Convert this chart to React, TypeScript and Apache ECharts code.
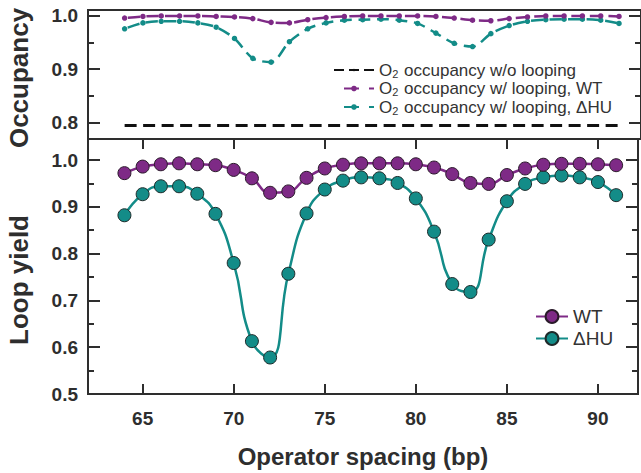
import React, { useEffect, useRef } from 'react';
import * as echarts from 'echarts';

// Operator spacing (bp)
const spacing = [64, 65, 66, 67, 68, 69, 70, 71, 72, 73, 74, 75, 76, 77, 78, 79, 80, 81, 82, 83, 84, 85, 86, 87, 88, 89, 90, 91];

// Top panel: O2 occupancy
const occNoLoop = [0.795, 0.795, 0.795, 0.795, 0.795, 0.795, 0.795, 0.795, 0.795, 0.795, 0.795, 0.795, 0.795, 0.795, 0.795, 0.795, 0.795, 0.795, 0.795, 0.795, 0.795, 0.795, 0.795, 0.795, 0.795, 0.795, 0.795, 0.795];
const occWT = [0.995, 0.998, 0.999, 0.999, 0.999, 0.998, 0.997, 0.994, 0.987, 0.986, 0.992, 0.996, 0.998, 0.999, 0.999, 0.999, 0.999, 0.998, 0.995, 0.991, 0.990, 0.994, 0.997, 0.999, 0.999, 0.999, 0.999, 0.998];
const occHU = [0.975, 0.986, 0.989, 0.989, 0.986, 0.978, 0.957, 0.920, 0.913, 0.951, 0.975, 0.986, 0.991, 0.992, 0.993, 0.991, 0.985, 0.967, 0.948, 0.942, 0.966, 0.981, 0.989, 0.992, 0.993, 0.993, 0.991, 0.985];

// Bottom panel: loop yield
const yieldWT = [0.972, 0.986, 0.991, 0.993, 0.991, 0.989, 0.979, 0.961, 0.930, 0.933, 0.962, 0.982, 0.990, 0.993, 0.993, 0.993, 0.991, 0.984, 0.970, 0.951, 0.949, 0.968, 0.982, 0.990, 0.992, 0.992, 0.991, 0.989];
const yieldHU = [0.882, 0.927, 0.944, 0.944, 0.928, 0.885, 0.780, 0.613, 0.578, 0.757, 0.886, 0.937, 0.956, 0.963, 0.961, 0.951, 0.918, 0.847, 0.735, 0.718, 0.830, 0.912, 0.949, 0.963, 0.967, 0.963, 0.953, 0.925];

const seriesNames = [
  'O2 occupancy w/o looping',
  'O2 occupancy w/ looping, WT',
  'O2 occupancy w/ looping, \u0394HU',
  'WT',
  '\u0394HU',
];

const FONT = '"Liberation Sans", Arial, Helvetica, sans-serif';
const AX = '#2e2e2e';
const PURPLE = '#7e2a86';
const TEAL = '#138c88';

const pairs = (ys: number[]) => spacing.map((x, i) => [x, ys[i]]);

const isTenth = (v: number) => Math.abs(v * 10 - Math.round(v * 10)) < 1e-6;
const isFive = (v: number) => Math.abs(v / 5 - Math.round(v / 5)) < 1e-6;

const tickStyle = { color: AX, width: 2 };

function yAxisDef(gridIndex: number, min: number, max: number, right: boolean, extra: any) {
  return {
    type: 'value',
    gridIndex,
    min,
    max,
    position: right ? 'right' : 'left',
    axisLine: { show: false },
    axisTick: { show: true, inside: true, length: 12, lineStyle: tickStyle },
    minorTick: { show: true, splitNumber: 2, length: 6, lineStyle: tickStyle },
    splitLine: { show: false },
    minorSplitLine: { show: false },
    axisLabel: right
      ? { show: false }
      : {
          show: true,
          margin: 10,
          fontSize: 19,
          fontWeight: 'bold',
          fontFamily: FONT,
          color: AX,
          showMinLabel: true,
          showMaxLabel: true,
          formatter: (v: number) => (isTenth(v) ? v.toFixed(1) : ''),
        },
    ...extra,
  };
}

function xAxisDef(gridIndex: number, position: string, ticks: boolean, labels: boolean, extra: any) {
  return {
    type: 'value',
    gridIndex,
    min: 62,
    max: 92.2,
    splitNumber: 6,
    position,
    axisLine: { show: false },
    axisTick: { show: ticks, inside: true, length: 10, lineStyle: tickStyle },
    splitLine: { show: false },
    axisLabel: labels
      ? {
          show: true,
          margin: 15,
          fontSize: 19,
          fontWeight: 'bold',
          fontFamily: FONT,
          color: AX,
          showMinLabel: true,
          showMaxLabel: true,
          formatter: (v: number) => (isFive(v) ? String(Math.round(v)) : ''),
        }
      : { show: false },
    ...extra,
  };
}

const legendFormatter = (name: string) =>
  name.startsWith('O2') ? `{n|O}{s|2}{n|${name.slice(2)}}` : name;

const topRich = {
  n: { fontSize: 17, fontFamily: FONT, color: '#333', lineHeight: 18 },
  s: { fontSize: 11, fontFamily: FONT, color: '#333', lineHeight: 8, verticalAlign: 'bottom', padding: [0, 1, 0, 0] },
};

export default function App() {
  const ref = useRef<HTMLDivElement>(null);

  useEffect(() => {
    if (!ref.current) return;
    const chart = echarts.init(ref.current, undefined, { renderer: 'svg' });

    const option: any = {
      animation: false,
      backgroundColor: '#ffffff',
      grid: [
        { left: 88, top: 10, width: 560, height: 129, show: true, borderColor: AX, borderWidth: 2, backgroundColor: 'transparent' },
        { left: 88, top: 139, width: 560, height: 256, show: true, borderColor: AX, borderWidth: 2, backgroundColor: 'transparent' },
      ],
      xAxis: [
        xAxisDef(0, 'bottom', false, false, {}),
        xAxisDef(1, 'bottom', true, true, {
          name: 'Operator spacing (bp)',
          nameLocation: 'middle',
          nameGap: 50,
          nameTextStyle: { fontSize: 24, fontWeight: 'bold', fontFamily: FONT, color: AX },
        }),
        xAxisDef(1, 'top', true, false, {}),
      ],
      yAxis: [
        yAxisDef(0, 0.77, 1.01, false, { splitNumber: 2 }),
        yAxisDef(1, 0.5, 1.045, false, { interval: 0.1 }),
        yAxisDef(0, 0.77, 1.01, true, { splitNumber: 2 }),
        yAxisDef(1, 0.5, 1.045, true, { interval: 0.1 }),
      ],
      legend: [
        {
          data: [seriesNames[0]],
          left: 328,
          top: 56,
          orient: 'vertical',
          itemWidth: 40,
          itemHeight: 3,
          selectedMode: false,
          lineStyle: { type: [10, 5] },
          formatter: legendFormatter,
          textStyle: { rich: topRich, fontSize: 17, lineHeight: 18, fontFamily: FONT, color: '#333' },
        },
        {
          data: [seriesNames[1], seriesNames[2]],
          left: 328,
          top: 74.5,
          orient: 'vertical',
          itemWidth: 40,
          itemHeight: 7,
          itemGap: 0.5,
          selectedMode: false,
          lineStyle: { type: [15, 10] },
          formatter: legendFormatter,
          textStyle: { rich: topRich, fontSize: 17, lineHeight: 18, fontFamily: FONT, color: '#333' },
        },
        {
          data: [seriesNames[3], seriesNames[4]],
          left: 530,
          top: 301.5,
          orient: 'vertical',
          itemWidth: 32,
          itemHeight: 16,
          itemGap: 2,
          selectedMode: false,
          textStyle: { fontSize: 19, lineHeight: 20, fontFamily: FONT, color: '#333' },
        },
      ],
      graphic: [
        {
          type: 'text',
          x: 19,
          y: 78,
          rotation: Math.PI / 2,
          style: {
            text: 'Occupancy',
            font: `bold 26px ${FONT}`,
            fill: AX,
            textAlign: 'center',
            textVerticalAlign: 'middle',
            align: 'center',
            verticalAlign: 'middle',
          },
        },
        {
          type: 'text',
          x: 19,
          y: 280,
          rotation: Math.PI / 2,
          style: {
            text: 'Loop yield',
            font: `bold 26px ${FONT}`,
            fill: AX,
            textAlign: 'center',
            textVerticalAlign: 'middle',
            align: 'center',
            verticalAlign: 'middle',
          },
        },
      ],
      series: [
        {
          name: seriesNames[0],
          type: 'line',
          xAxisIndex: 0,
          yAxisIndex: 0,
          data: pairs(occNoLoop),
          symbol: 'none',
          color: '#111111',
          lineStyle: { color: '#111111', width: 3, type: [12, 6.5] },
          z: 3,
        },
        {
          name: seriesNames[1],
          type: 'line',
          xAxisIndex: 0,
          yAxisIndex: 0,
          data: pairs(occWT),
          smooth: 0.3,
          symbol: 'circle',
          symbolSize: 5.5,
          color: PURPLE,
          itemStyle: { color: PURPLE },
          lineStyle: { color: PURPLE, width: 2.5, type: [12, 6.53], dashOffset: 15.27 },
          z: 4,
        },
        {
          name: seriesNames[2],
          type: 'line',
          xAxisIndex: 0,
          yAxisIndex: 0,
          data: pairs(occHU),
          smooth: 0.3,
          symbol: 'circle',
          symbolSize: 5.5,
          color: TEAL,
          itemStyle: { color: TEAL },
          lineStyle: { color: TEAL, width: 2.5, type: [12, 6.53], dashOffset: 15.27 },
          z: 3,
        },
        {
          name: seriesNames[4],
          type: 'line',
          xAxisIndex: 1,
          yAxisIndex: 1,
          data: pairs(yieldHU),
          smooth: 0.5,
          symbol: 'circle',
          symbolSize: 13,
          color: TEAL,
          itemStyle: { color: TEAL, borderColor: '#1e2a2a', borderWidth: 1 },
          lineStyle: { color: TEAL, width: 2.5 },
          z: 3,
        },
        {
          name: seriesNames[3],
          type: 'line',
          xAxisIndex: 1,
          yAxisIndex: 1,
          data: pairs(yieldWT),
          smooth: 0.5,
          symbol: 'circle',
          symbolSize: 13,
          color: PURPLE,
          itemStyle: { color: PURPLE, borderColor: '#2a1a2a', borderWidth: 1 },
          lineStyle: { color: PURPLE, width: 2.5 },
          z: 4,
        },
      ],
    };

    chart.setOption(option);
    return () => chart.dispose();
  }, []);

  return (
    <div
      ref={ref}
      style={{ position: 'fixed', left: 0, top: 0, width: 641, height: 473, background: '#fff' }}
    />
  );
}
